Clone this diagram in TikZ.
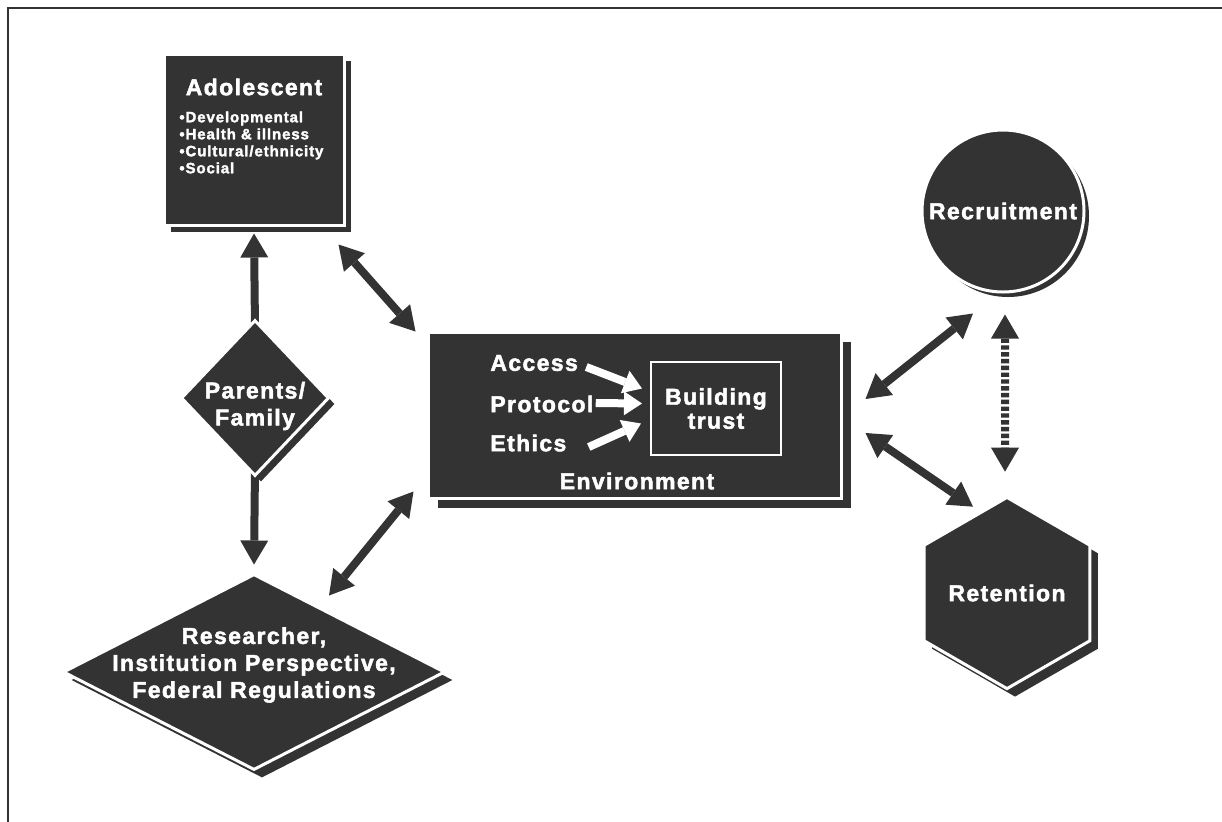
\documentclass[tikz,border=0pt]{standalone}
\usepackage{fontspec}
\setmainfont{Liberation Sans}[LetterSpace=6, BoldFeatures={FakeBold=2}]
\usepackage{tikz}
\usetikzlibrary{arrows.meta,calc,positioning,shapes.geometric,shadows,backgrounds}
\definecolor{dk}{RGB}{51,51,51}

\begin{document}
\begin{tikzpicture}[x=0.5pt,y=-0.5pt]

\tikzset{darkbox/.style={fill=dk, draw=white, line width=1.5pt, inner sep=0pt,
           text=white, align=center, font=\bfseries\fontsize{11.5}{13.5}\selectfont},
         shadowed/.style={drop shadow={shadow xshift=#1, shadow yshift=-#1, fill=dk, opacity=1}},
         boxtext/.style={text=white, inner sep=0pt, font=\bfseries\fontsize{11.5}{13.5}\selectfont},
         oneway/.style={draw=dk, line width=4pt, -{Triangle[width=14pt,length=12pt,line width=0pt]}},
         twoway/.style={oneway, {Triangle[width=14pt,length=12pt,line width=0pt]}-{Triangle[width=14pt,length=12pt,line width=0pt]}},
         whitearrow/.style={draw=white, line width=4pt, -{Triangle[width=12pt,length=9pt,line width=0pt]}}}

\useasboundingbox (0,0) rectangle (1222,821);
\draw[dk, line width=1pt] (8,8) rectangle (1250,850);

% left column
\node[darkbox, shadowed=3.5pt, minimum width=90pt, minimum height=85.5pt] (ado) at (254,139.5) {};
\node[boxtext] (adotitle) at (254,87) {Adolescent};
\node[boxtext, anchor=north west, align=left, font=\bfseries\fontsize{7.5}{8.5}\selectfont] (adolist) at (179,111)
  {\textbullet Developmental\\\textbullet Health \& illness\\\textbullet Cultural/ethnicity\\\textbullet Social};

\node[darkbox, diamond, shadowed=3pt, minimum width=74pt, minimum height=78pt] (par) at (255,398) {};
\node[boxtext, align=center] (partxt) at (255,406) {Parents/\\Family};

\node[darkbox, diamond, shadowed=4pt, minimum width=191pt, minimum height=98pt] (res) at (254,672) {};
\node[boxtext, align=center] (restxt) at (254,665) {Researcher,\\Institution Perspective,\\Federal Regulations};

% environment
\node[darkbox, shadowed=5pt, minimum width=206.5pt, minimum height=83pt] (env) at (634.5,415) {};
\node[boxtext, draw=white, line width=1pt, align=center, minimum width=65pt, minimum height=46.5pt,
      font=\bfseries\fontsize{11.5}{12}\selectfont] (trust) at (716,408.5) {Building\\trust};
\node[boxtext, anchor=west] (acc) at (490,363) {Access};
\node[boxtext, anchor=west] (prot) at (490,404) {Protocol};
\node[boxtext, anchor=west] (eth) at (490,443) {Ethics};
\node[boxtext] (envtxt) at (637,481) {Environment};

\draw[whitearrow] ($(acc.east)+(8,4)$) -- ($(trust.west)+(-8,-20)$);
\draw[whitearrow] ($(prot.east)+(2,-1)$) -- ($(trust.west)+(-8,-5)$);
\draw[whitearrow] ($(eth.east)+(22,4)$) -- ($(trust.west)+(-9,15)$);

% right column
\node[darkbox, circle, shadowed=2.5pt, minimum size=81pt] (rec) at (1003,211) {Recruitment};
\node[darkbox, regular polygon, regular polygon sides=6, regular polygon rotate=30,
      shadowed=4pt, minimum size=82pt] (ret) at (1007,593) {Retention};

\begin{scope}[on background layer]
\draw[oneway] ($(par.north)+(0,10)$) -- ($(ado.south)+(0,7)$);
\draw[oneway] ($(par.south)+(0,-10)$) -- ($(res.north)+(0,-8)$);
\draw[twoway] ($(ado.south east)+(-7,18)$) -- ($(env.north west)+(-11,1)$);
\draw[twoway] ($(res.north)+(75,23)$) -- ($(env.south west)+(-13,-8)$);
\draw[twoway] ($(env.east)+(23,-16)$) -- ($(rec.south)+(-30,20)$);
\draw[twoway] ($(env.east)+(23,18)$) -- ($(ret.north)+(-34,11)$);
\draw[twoway, dash pattern=on 2.2pt off 1.2pt] ($(rec.south)+(2,21)$) -- ($(ret.north)+(-2,-24)$);
\end{scope}

\end{tikzpicture}
\end{document}
